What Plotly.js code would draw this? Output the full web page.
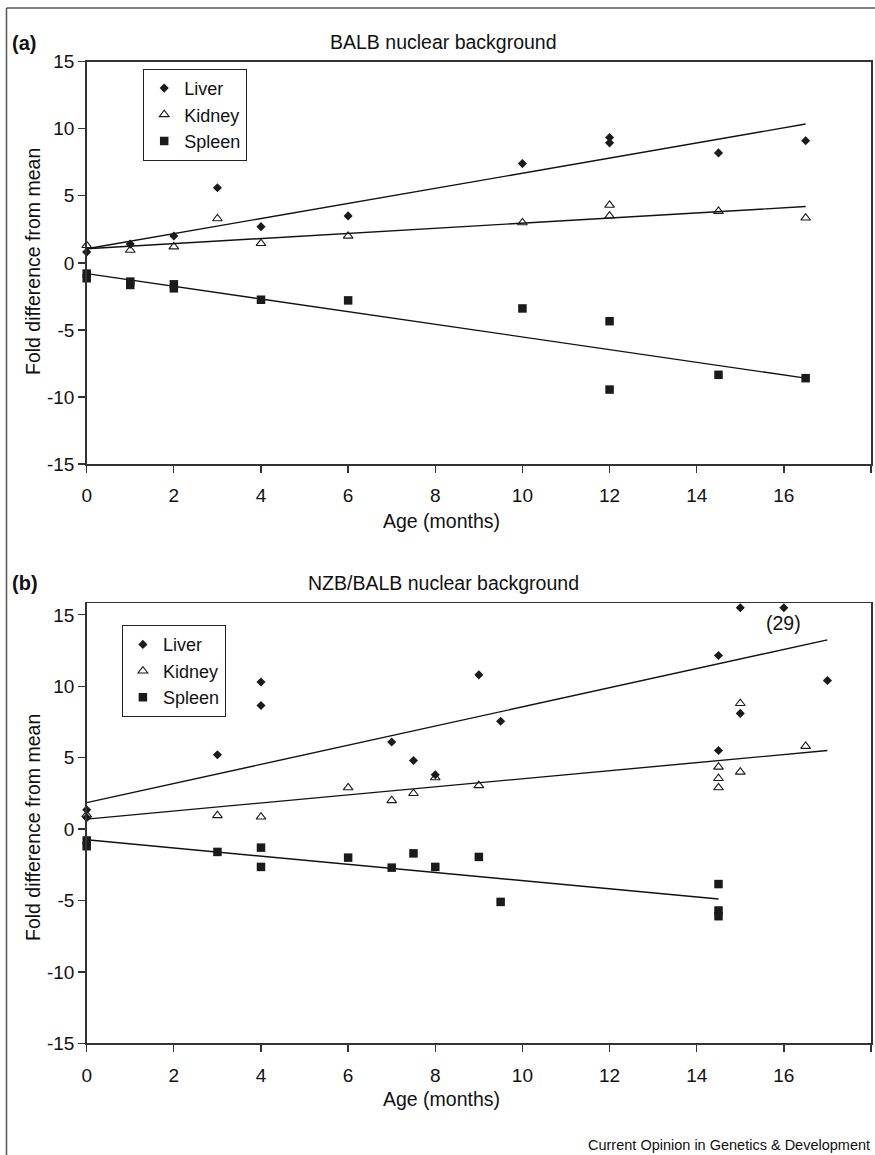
<!DOCTYPE html>
<html>
<head>
<meta charset="utf-8">
<script src="https://cdn.plot.ly/plotly-3.0.1.min.js"></script>
<style>html,body{margin:0;padding:0;background:#fff;}#chart{width:875px;height:1155px;}</style>
</head>
<body>
<div id="chart"></div>
<script>
// ---------- Panel (a): BALB nuclear background ----------
const ageA_liver  = [0, 1, 2, 3, 4, 6, 10, 12, 12, 14.5, 16.5];
const liverA      = [0.8, 1.4, 2.0, 5.6, 2.7, 3.5, 7.4, 9.35, 8.95, 8.2, 9.1];
const ageA_kidney = [0, 1, 2, 3, 4, 6, 10, 12, 12, 14.5, 16.5];
const kidneyA     = [1.3, 0.95, 1.2, 3.3, 1.45, 2.0, 3.0, 4.3, 3.5, 3.85, 3.35];
const ageA_spleen = [0, 0, 1, 1, 2, 2, 4, 6, 10, 12, 12, 14.5, 16.5];
const spleenA     = [-0.8, -1.15, -1.4, -1.65, -1.6, -1.9, -2.75, -2.8, -3.4, -4.35, -9.45, -8.35, -8.6];
// trend line end points
const trendA_x      = [0, 16.5];
const trendA_liver  = [1.05, 10.35];
const trendA_kidney = [1.05, 4.2];
const trendA_spleen = [-0.8, -8.6];

// ---------- Panel (b): NZB/BALB nuclear background ----------
const ageB_liver  = [0, 0, 3, 4, 4, 7, 7.5, 8, 9, 9.5, 14.5, 14.5, 15, 15, 16, 17];
const liverB      = [1.35, 0.8, 5.2, 10.3, 8.65, 6.1, 4.8, 3.8, 10.8, 7.55, 12.15, 5.5, 15.5, 8.1, 15.5, 10.4];
const ageB_kidney = [0, 3, 4, 6, 7, 7.5, 8, 9, 14.5, 14.5, 14.5, 15, 15, 16.5];
const kidneyB     = [1.0, 0.95, 0.85, 2.9, 2.0, 2.5, 3.6, 3.05, 4.35, 3.55, 2.9, 8.8, 4.0, 5.8];
const ageB_spleen = [0, 0, 3, 4, 4, 6, 7, 7.5, 8, 9, 9.5, 14.5, 14.5, 14.5];
const spleenB     = [-0.8, -1.2, -1.6, -1.3, -2.65, -2.0, -2.7, -1.7, -2.65, -1.95, -5.1, -3.85, -5.7, -6.1];
const trendB_x      = [0, 17];
const trendB_liver  = [1.85, 13.25];
const trendB_kidney = [0.7, 5.5];
const trendB_xs     = [0, 14.5];
const trendB_spleen = [-0.75, -4.9];

// ---------- Axis tick labels ----------
const xTickVals = [0, 2, 4, 6, 8, 10, 12, 14, 16, 18];
const xTickText = ['0', '2', '4', '6', '8', '10', '12', '14', '16', ''];
const yTickVals = [-15, -10, -5, 0, 5, 10, 15];
const yTickText = ['-15', '-10', '-5', '0', '5', '10', '15'];
const seriesNames = ['Liver', 'Kidney', 'Spleen'];

const W = 875, H = 1155;
const px = v => v / W;
const py = v => 1 - v / H;
const FONT = 'Liberation Sans, Arial, Helvetica, sans-serif';
const INK = '#1a1a1a';
const AX = '#333333';

const mk = {
  liver:  {symbol: 'diamond', size: 7, color: INK},
  kidney: {symbol: 'triangle-up-open', size: 8.5, color: INK, line: {width: 1.1, color: INK}},
  spleen: {symbol: 'square', size: 8.5, color: INK}
};

function pts(x, y, name, marker, xa, ya, leg) {
  return {x: x, y: y, name: name, type: 'scatter', mode: 'markers', marker: marker,
          xaxis: xa, yaxis: ya, legend: leg, cliponaxis: false, hoverinfo: 'skip'};
}
function line(x, y, xa, ya) {
  return {x: x, y: y, type: 'scatter', mode: 'lines', line: {color: '#111', width: 1.4},
          xaxis: xa, yaxis: ya, showlegend: false, hoverinfo: 'skip'};
}

const data = [
  line(trendA_x, trendA_liver, 'x', 'y'),
  line(trendA_x, trendA_kidney, 'x', 'y'),
  line(trendA_x, trendA_spleen, 'x', 'y'),
  pts(ageA_liver, liverA, seriesNames[0], mk.liver, 'x', 'y', 'legend'),
  pts(ageA_kidney, kidneyA, seriesNames[1], mk.kidney, 'x', 'y', 'legend'),
  pts(ageA_spleen, spleenA, seriesNames[2], mk.spleen, 'x', 'y', 'legend'),
  line(trendB_x, trendB_liver, 'x2', 'y2'),
  line(trendB_x, trendB_kidney, 'x2', 'y2'),
  line(trendB_xs, trendB_spleen, 'x2', 'y2'),
  pts(ageB_liver, liverB, seriesNames[0], mk.liver, 'x2', 'y2', 'legend2'),
  pts(ageB_kidney, kidneyB, seriesNames[1], mk.kidney, 'x2', 'y2', 'legend2'),
  pts(ageB_spleen, spleenB, seriesNames[2], mk.spleen, 'x2', 'y2', 'legend2')
];

const tickFont = {family: FONT, size: 19, color: '#111'};
function xAxis(anchor) {
  return {domain: [px(86.7), px(871)], range: [0, 18], anchor: anchor,
          tickmode: 'array', tickvals: xTickVals, ticktext: xTickText,
          ticks: 'outside', ticklen: 7, tickwidth: 1.3, tickcolor: AX,
          showline: true, mirror: true, linecolor: AX, linewidth: 1.5,
          showgrid: false, zeroline: false, tickfont: tickFont, ticklabelstandoff: 7, fixedrange: true};
}
function yAxis(domain, range, anchor) {
  return {domain: domain, range: range, anchor: anchor,
          tickmode: 'array', tickvals: yTickVals, ticktext: yTickText,
          ticks: 'outside', ticklen: 7, tickwidth: 1.3, tickcolor: AX,
          showline: true, mirror: true, linecolor: AX, linewidth: 1.5,
          showgrid: false, zeroline: false, tickfont: tickFont, fixedrange: true};
}

const legendBase = {
  xanchor: 'left', yanchor: 'top', bgcolor: '#fff', bordercolor: '#222', borderwidth: 1.2,
  font: {family: FONT, size: 18, color: '#111'}, tracegroupgap: 0, itemwidth: 30
};

const ann = (x, y, text, opt) => Object.assign({
  xref: 'paper', yref: 'paper', x: px(x), y: py(y), text: text, showarrow: false,
  xanchor: 'center', yanchor: 'middle', font: {family: FONT, size: 19.5, color: '#111'}
}, opt || {});

const layout = {
  width: W, height: H, margin: {l: 0, r: 0, t: 0, b: 0},
  paper_bgcolor: '#fff', plot_bgcolor: '#fff', showlegend: true,
  font: {family: FONT, color: '#111'},
  xaxis: xAxis('y'),
  yaxis: yAxis([py(464), py(61.7)], [-15, 15], 'x'),
  xaxis2: xAxis('y2'),
  yaxis2: yAxis([py(1043.3), py(603)], [-15, 15.83], 'x2'),
  legend: Object.assign({x: px(143), y: py(68.7)}, legendBase),
  legend2: Object.assign({x: px(121.7), y: py(625)}, legendBase),
  annotations: [
    ann(10, 43, '<b>(a)</b>', {xanchor: 'left', font: {family: FONT, size: 20, color: '#111'}}),
    ann(443, 42, 'BALB nuclear background'),
    ann(441, 521, 'Age (months)'),
    ann(33, 262, 'Fold difference from mean', {textangle: -90}),
    ann(10, 583, '<b>(b)</b>', {xanchor: 'left', font: {family: FONT, size: 20, color: '#111'}}),
    ann(443, 583, 'NZB/BALB nuclear background'),
    ann(441, 1099, 'Age (months)'),
    ann(33, 828, 'Fold difference from mean', {textangle: -90}),
    {xref: 'x2', yref: 'y2', x: 16, y: 14.4, text: '(29)', showarrow: false,
     xanchor: 'center', yanchor: 'middle', font: {family: FONT, size: 19.5, color: '#111'}},
    ann(872, 1145, 'Current Opinion in Genetics &amp; Development', {xanchor: 'right', font: {family: FONT, size: 14.5, color: '#111'}})
  ],
  shapes: [
    {type: 'line', xref: 'paper', yref: 'paper', x0: px(6.5), x1: 1, y0: py(8), y1: py(8), line: {color: '#555', width: 1.5}},
    {type: 'line', xref: 'paper', yref: 'paper', x0: px(6.5), x1: px(6.5), y0: py(8), y1: 0, line: {color: '#555', width: 1.5}}
  ]
};

Plotly.newPlot('chart', data, layout, {staticPlot: true, displayModeBar: false});
</script>
</body>
</html>
